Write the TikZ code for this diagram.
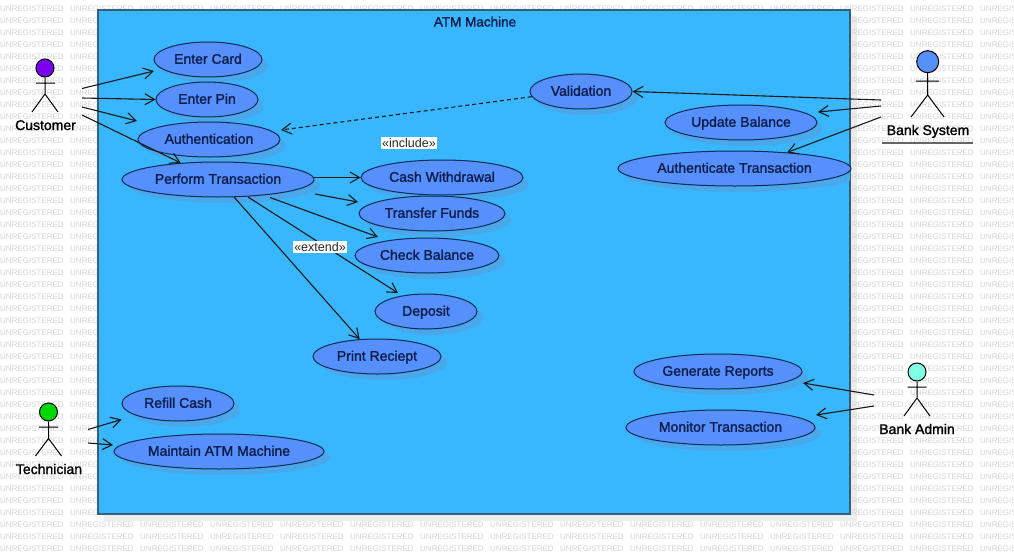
\documentclass[tikz,border=0pt]{standalone}
\usepackage{fontspec}
\setmainfont{Liberation Sans}
\newfontfamily\heavyfont[FakeBold=1.5]{Liberation Sans}
\usetikzlibrary{arrows.meta,shapes.geometric,calc}
\definecolor{framefill}{HTML}{38B6FF}
\definecolor{frameline}{HTML}{35607C}
\definecolor{ucfill}{HTML}{5590FC}
\definecolor{ucline}{HTML}{0B2A55}
\definecolor{ucshadow}{HTML}{4AA8EA}
\definecolor{uctext}{HTML}{0E1C4C}
\definecolor{mark}{HTML}{D4D4D4}
\tikzset{
  x=1pt,y=-1pt,
  wmark/.style={anchor=west,inner sep=0pt,font=\fontsize{8}{8}\selectfont,text=mark},
  uc/.style={ellipse,draw=ucline,fill=ucfill,line width=1pt,inner sep=0pt,minimum height=35pt,
    text=uctext,text height=8.5pt,text depth=0pt,font=\heavyfont\fontsize{14}{14}\selectfont},
  actorlabel/.style={inner sep=0pt,text height=10pt,text depth=0pt,font=\heavyfont\fontsize{14}{14}\selectfont,text=black},
  stereo/.style={fill=white,inner sep=1pt,font=\fontsize{12.5}{12.5}\selectfont,text=black!85},
  arr/.style={-{Straight Barb[length=9.5pt,width=11pt,line width=1.1pt]},line width=1.1pt,draw=black!90},
  stick/.style={line width=1pt,draw=black},
  head/.style={circle,draw=black,line width=1pt,inner sep=0pt},
}
\newcommand{\usecase}[6]{%
  \begin{scope}
    \clip (98,10) rectangle (850,514);
    \fill[ucshadow] (#2+6,#3+6) ellipse [x radius=#4,y radius=17.5];
  \end{scope}
  \node[uc,minimum width=#5pt] (#1) at (#2,#3) {#6};}
\begin{document}
\begin{tikzpicture}
\useasboundingbox (0,0) rectangle (1014,554);
\fill[white] (0,0) rectangle (1014,554);
\fill[black!7] (104,16) rectangle (857,521);
\foreach \r in {0,...,45}{
  \foreach \c in {0,...,14}{
    \node[wmark] (wm-\r-\c) at (\c*70,9+\r*12) {UNREGISTERED};
  }
}
\node[draw=frameline,fill=framefill,line width=1.2pt,inner sep=0pt,minimum width=752pt,minimum height=504pt] (system) at (474,262) {};
\node[inner sep=0pt,text=uctext,text height=10pt,text depth=0pt,font=\heavyfont\fontsize{13.5}{13.5}\selectfont] (title) at (475,21.5) {ATM Machine};

\usecase{card}{208}{59.5}{54}{108}{Enter Card}
\usecase{pin}{207}{99.5}{51}{102}{Enter Pin}
\usecase{auth}{209}{139.5}{71}{142}{Authentication}
\usecase{perform}{218}{179.5}{96}{192}{Perform Transaction}
\usecase{cash}{442}{177.5}{81}{162}{Cash Withdrawal}
\usecase{transfer}{432}{213.5}{73}{146}{Transfer Funds}
\usecase{balance}{427}{255.5}{72}{144}{Check Balance}
\usecase{deposit}{426}{311.5}{51}{102}{Deposit}
\usecase{print}{377}{356.5}{64}{128}{Print Reciept}
\usecase{refill}{178}{403.5}{56}{112}{Refill Cash}
\usecase{maintain}{219}{451.5}{105}{210}{Maintain ATM Machine}
\usecase{valid}{581}{91.5}{51}{102}{Validation}
\usecase{update}{741}{122.5}{76}{152}{Update Balance}
\usecase{authtx}{734.5}{168.5}{116.5}{233}{Authenticate Transaction}
\usecase{reports}{718}{371.5}{84}{168}{Generate Reports}
\usecase{monitor}{720.5}{427.5}{94.5}{189}{Monitor Transaction}

% actors
\node[head,fill={rgb,255:red,122;green,0;blue,238},minimum size=18pt] (custhead) at (45,68) {};
\node[actorlabel] (custlabel) at (45.5,125) {Customer};
\coordinate (custhip) at (45,94);
\coordinate (custL) at (32,112); \coordinate (custR) at (58,112);
\coordinate (custA1) at (36,83); \coordinate (custA2) at (55,83);
\draw[stick] (custhead) -- (custhip) (custA1) -- (custA2) (custL) -- (custhip) -- (custR);

\node[head,fill={rgb,255:red,0;green,214;blue,0},minimum size=18pt] (techhead) at (48.5,412) {};
\node[actorlabel] (techlabel) at (49,469) {Technician};
\coordinate (techhip) at (48.5,438.5);
\coordinate (techL) at (35.5,456); \coordinate (techR) at (61.5,456);
\coordinate (techA1) at (39,427); \coordinate (techA2) at (58,427);
\draw[stick] (techhead) -- (techhip) (techA1) -- (techA2) (techL) -- (techhip) -- (techR);

\node[head,fill=ucfill,minimum size=22pt] (bankhead) at (927.7,61.7) {};
\node[actorlabel] (banklabel) at (928,130) {Bank System};
\coordinate (bankhip) at (927.7,95);
\coordinate (bankL) at (911,117); \coordinate (bankR) at (944,117);
\coordinate (bankA1) at (916,81); \coordinate (bankA2) at (939,81);
\draw[stick] (bankhead) -- (bankhip) (bankA1) -- (bankA2) (bankL) -- (bankhip) -- (bankR);
\coordinate (ulA) at (882,143); \coordinate (ulB) at (973,143);
\draw[line width=1.4pt,draw=black!60] (ulA) -- (ulB);

\node[head,fill={rgb,255:red,127;green,255;blue,228},minimum size=18pt] (adminhead) at (917,372) {};
\node[actorlabel] (adminlabel) at (917,429) {Bank Admin};
\coordinate (adminhip) at (917,398);
\coordinate (adminL) at (904,416); \coordinate (adminR) at (930,416);
\coordinate (adminA1) at (907.5,387); \coordinate (adminA2) at (926.5,387);
\draw[stick] (adminhead) -- (adminhip) (adminA1) -- (adminA2) (adminL) -- (adminhip) -- (adminR);

% connector ends
\coordinate (c1) at (82,88.5); \coordinate (c2) at (82,98); \coordinate (c3) at (82,107); \coordinate (c4) at (82,115);
\coordinate (tocard) at (154,71);
\coordinate (toauth) at (137,121);
\coordinate (p1) at (314,177.5);
\coordinate (p2) at (315,194); \coordinate (totransfer) at (358,202);
\coordinate (p3) at (270,197.5); \coordinate (tobalance) at (378,237);
\coordinate (p4) at (248,197); \coordinate (todeposit) at (398,293);
\coordinate (p5) at (234,197);
\coordinate (b1) at (881,100); \coordinate (b2) at (881,106); \coordinate (b3) at (881,117);
\coordinate (toupdate) at (818,112);
\coordinate (t1) at (88,429.5); \coordinate (t2) at (88,443);
\coordinate (torefill) at (121.5,419.5); \coordinate (tomaintain) at (113,445);
\coordinate (a1) at (874,395); \coordinate (a2) at (874,406);
\coordinate (toreports) at (803,383); \coordinate (tomonitor) at (816,415);
\coordinate (toauthdash) at (281,130);

\draw[arr] (c1) -- (tocard);
\draw[arr] (c2) -- (pin.west);
\draw[arr] (c3) -- (toauth);
\draw[arr] (c4) -- (perform.156);
\draw[arr] (p1) -- (cash.west);
\draw[arr] (p2) -- (totransfer);
\draw[arr] (p3) -- (tobalance);
\draw[arr] (p4) -- (todeposit);
\draw[arr] (p5) -- (print.135);
\draw[arr] (t1) -- (torefill);
\draw[arr] (t2) -- (tomaintain);
\draw[arr] (b1) -- (valid.east);
\draw[arr] (b2) -- (toupdate);
\draw[arr] (b3) -- (authtx.17);
\draw[arr] (a1) -- (toreports);
\draw[arr] (a2) -- (tomonitor);
\draw[arr,dash pattern=on 4pt off 3pt] (valid.186) -- (toauthdash);

\node[stereo] (inc) at (409,143) {«include»};
\node[stereo] (ext) at (320,247) {«extend»};
\end{tikzpicture}
\end{document}
